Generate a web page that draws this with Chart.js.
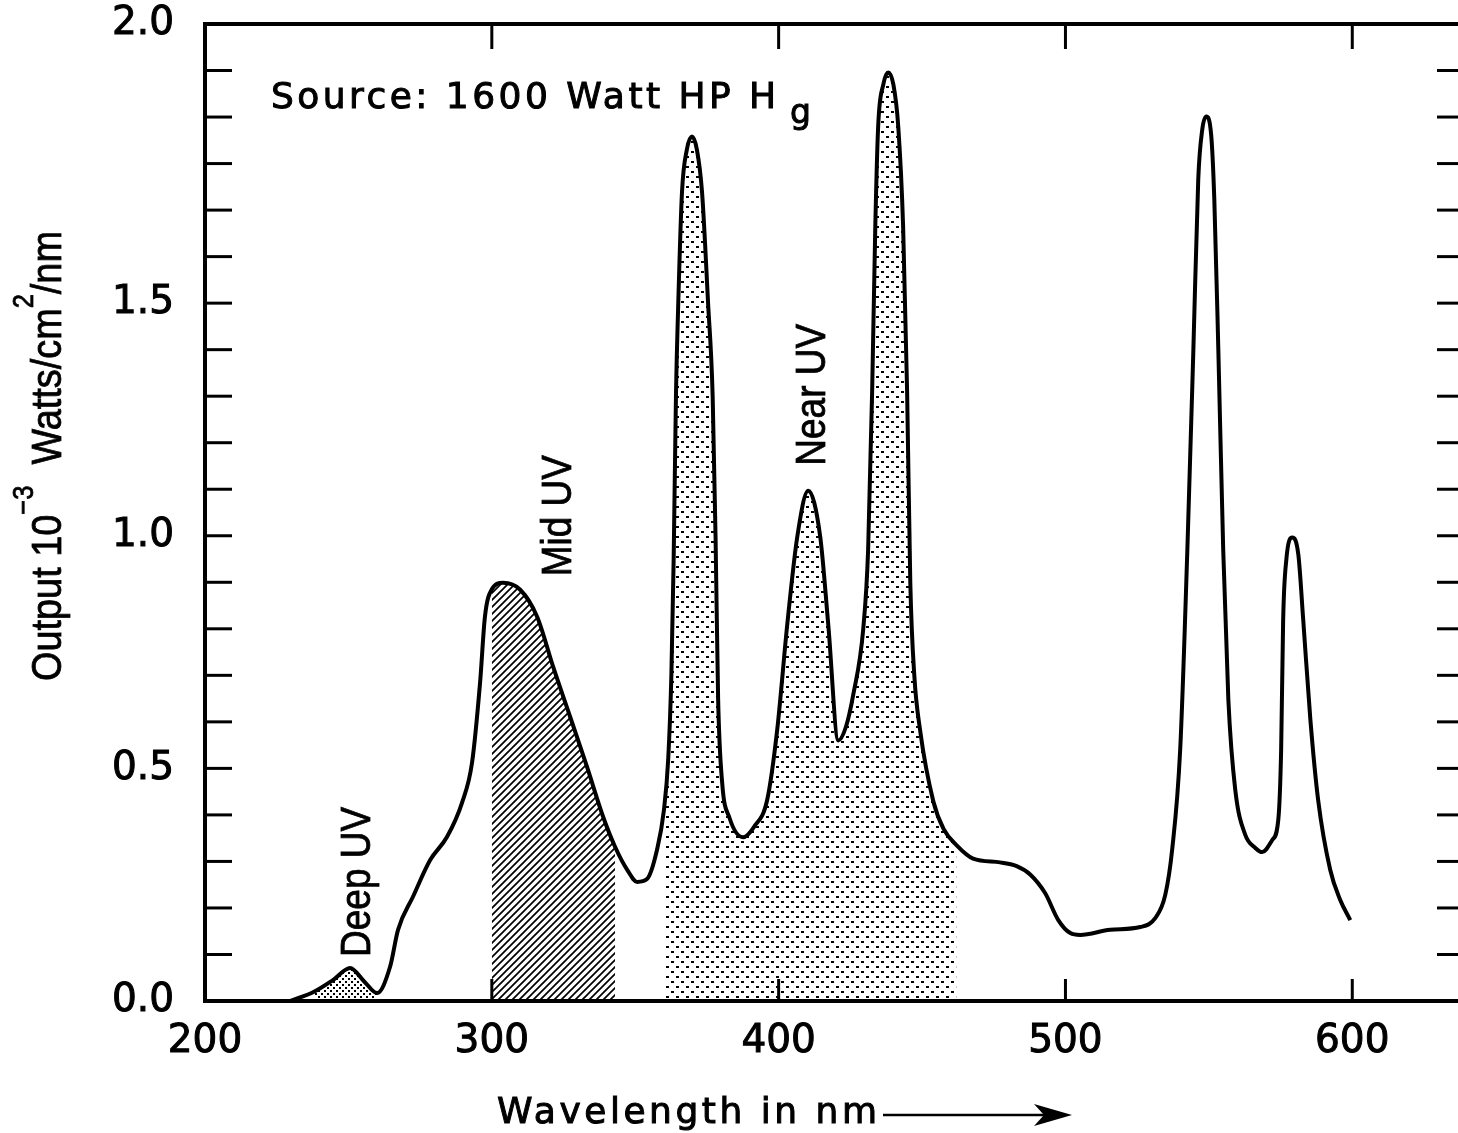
<!DOCTYPE html>
<html>
<head>
<meta charset="utf-8">
<title>HP Hg lamp output</title>
<script src="https://cdn.jsdelivr.net/npm/chart.js@4.4.0/dist/chart.umd.min.js"></script>
<style>
  html, body { margin: 0; padding: 0; background: #fff; overflow: hidden; }
</style>
</head>
<body>
<canvas id="myChart" width="1490" height="1133"></canvas>
<script>
// spectral output of a 1600 W high pressure mercury lamp
const wavelengthNm = [
  229.6, 238, 244.6, 250.6, 255.5, 260, 264.5, 267.3, 272.5, 278.5,
  284.4, 289.6, 293.1, 295.9, 297.6, 300, 303.9, 309.9, 315.8, 321.4,
  327.3, 333.2, 338.8, 343, 347.2, 350.7, 354.1, 357.6, 360, 361.5,
  362.6, 363.4, 364.2, 365.1, 366.3, 368, 369.8, 371.5, 373.3, 375.4,
  377.0, 378.0, 378.9, 380.3, 382.8, 387.6, 391.5, 396, 399.5, 403,
  406.5, 410.3, 414.5, 417.3, 420.8, 423.5, 426, 429.5, 431.2, 432.6,
  433.7, 434.7, 436.5, 438.2, 440, 441.7, 443.4, 444.8, 445.9, 447.3,
  449.3, 453.9, 457.5, 462, 467.8, 477.2, 483, 487.7, 492.9, 497.5,
  501.7, 505.1, 515.6, 526.1, 531.3, 534.8, 537.2, 540, 542.5, 544.6,
  546.3, 547.7, 549.1, 550.8, 551.9, 553.3, 555, 556.8, 559.2, 562.7,
  566.2, 568.6, 572.1, 574.2, 575.2, 575.9, 577, 579.1, 581.2, 582.9,
  585.4, 588.1, 592.3, 595.8, 599.3
];
const outputPerNm = [
  0.00, 0.02, 0.045, 0.071, 0.042, 0.017, 0.073, 0.153, 0.224, 0.303,
  0.353, 0.426, 0.512, 0.684, 0.826, 0.885, 0.899, 0.884, 0.826, 0.718,
  0.611, 0.503, 0.396, 0.331, 0.282, 0.256, 0.262, 0.325, 0.41, 0.52,
  0.70, 0.95, 1.30, 1.52, 1.738, 1.83, 1.858, 1.83, 1.738, 1.50,
  1.30, 1.00, 0.65, 0.47, 0.395, 0.352, 0.375, 0.432, 0.583, 0.809,
  0.998, 1.097, 0.998, 0.809, 0.56, 0.59, 0.658, 0.80, 0.97, 1.31,
  1.665, 1.88, 1.97, 1.996, 1.97, 1.88, 1.665, 1.308, 0.90, 0.70,
  0.583, 0.43, 0.37, 0.335, 0.306, 0.298, 0.29, 0.272, 0.232, 0.174,
  0.146, 0.142, 0.153, 0.159, 0.178, 0.228, 0.325, 0.54, 0.97, 1.40,
  1.766, 1.873, 1.901, 1.862, 1.723, 1.40, 0.97, 0.647, 0.454, 0.357,
  0.329, 0.32, 0.346, 0.389, 0.54, 0.819, 0.948, 0.996, 0.959, 0.819,
  0.604, 0.432, 0.282, 0.217, 0.174
];

const xTickValues = [200, 300, 400, 500, 600];
const yTickValues = [0, 0.5, 1.0, 1.5, 2.1];
const yTickLabels = ["0.0", "0.5", "1.0", "1.5", "2.0"];

const bandNames = ["Deep UV", "Mid UV", "Near UV"];
const bandFrom = [238, 300, 360];
const bandTo = [260, 343, 462];

const spectrum = wavelengthNm.map((nm, i) => ({ x: nm, y: outputPerNm[i] }));

function makePattern(size, paint) {
  const c = document.createElement("canvas");
  c.width = size;
  c.height = size;
  const g = c.getContext("2d");
  g.fillStyle = "#000";
  g.strokeStyle = "#000";
  paint(g, size);
  return g.createPattern(c, "repeat");
}

// fine stipple, diagonal hatch, open dot screen
const bandFills = [
  makePattern(6, (g) => {
    g.fillRect(0, 0, 2, 2);
    g.fillRect(3, 3, 2, 2);
  }),
  makePattern(7, (g, s) => {
    g.lineWidth = 1.7;
    g.beginPath();
    g.moveTo(-1, s + 1); g.lineTo(s + 1, -1);
    g.moveTo(-1, 1); g.lineTo(1, -1);
    g.moveTo(s - 1, s + 1); g.lineTo(s + 1, s - 1);
    g.stroke();
  }),
  makePattern(10, (g) => {
    g.fillRect(1, 1, 3, 2);
    g.fillRect(6, 6, 3, 2);
  })
];

const bandSets = bandNames.map((name, i) => ({
  label: name,
  data: spectrum.filter((p) => p.x >= bandFrom[i] && p.x <= bandTo[i]),
  fill: "origin",
  backgroundColor: bandFills[i],
  borderWidth: 0,
  borderColor: "rgba(0,0,0,0)",
  pointRadius: 0,
  cubicInterpolationMode: "monotone"
}));

function line(ctx, x1, y1, x2, y2) {
  ctx.beginPath();
  ctx.moveTo(x1, y1);
  ctx.lineTo(x2, y2);
  ctx.stroke();
}

// spread a string so it runs from x0 to x1
function spreadText(ctx, text, x0, x1, base) {
  ctx.letterSpacing = "0px";
  const w = ctx.measureText(text).width;
  const gap = (x1 - x0 - w) / Math.max(text.length - 1, 1);
  ctx.letterSpacing = gap.toFixed(2) + "px";
  ctx.strokeText(text, x0, base);
  ctx.fillText(text, x0, base);
  ctx.letterSpacing = "0px";
}

// text set upright along the axis, optionally with raised pieces
function vertText(ctx, bx, my, parts) {
  const squeeze = 0.88;
  let total = 0;
  for (const p of parts) {
    ctx.font = p.size + 'px "Liberation Sans", Arial, sans-serif';
    p.w = ctx.measureText(p.t).width * squeeze;
    total += p.w;
  }
  ctx.save();
  ctx.translate(bx, my);
  ctx.rotate(-Math.PI / 2);
  ctx.textBaseline = "alphabetic";
  let pos = -total / 2;
  for (const p of parts) {
    ctx.save();
    ctx.font = p.size + 'px "Liberation Sans", Arial, sans-serif';
    ctx.translate(pos, -(p.rise || 0));
    ctx.scale(squeeze, 1);
    ctx.strokeText(p.t, 0, 0);
    ctx.fillText(p.t, 0, 0);
    ctx.restore();
    pos += p.w;
  }
  ctx.restore();
}

const frame = {
  id: "frame",
  afterDraw(chart) {
    const { ctx, chartArea: a, scales: { x, y } } = chart;
    ctx.save();
    ctx.strokeStyle = "#000";
    ctx.fillStyle = "#000";
    ctx.lineWidth = 4;
    ctx.strokeRect(a.left, a.top, a.right - a.left, a.bottom - a.top);

    // ticks point inwards on all four sides
    ctx.lineWidth = 3;
    for (let k = 1; k <= 20; k++) {
      const py = y.getPixelForValue(k / 10);
      line(ctx, a.left, py, a.left + 27, py);
      line(ctx, a.right - 30, py, a.right, py);
    }
    for (const t of xTickValues.slice(1)) {
      const px = x.getPixelForValue(t);
      line(ctx, px, a.top, px, a.top + 25);
      line(ctx, px, a.bottom, px, a.bottom - 22);
    }

    ctx.textBaseline = "alphabetic";
    ctx.lineWidth = 1;

    // lamp note
    ctx.font = '36px "DejaVu Sans", sans-serif';
    spreadText(ctx, "Source: 1600 Watt HP H", 271, 776, 108);
    ctx.font = '33px "DejaVu Sans", sans-serif';
    ctx.strokeText("g", 790, 123);
    ctx.fillText("g", 790, 123);

    // x axis title with arrow
    ctx.font = '36px "DejaVu Sans", sans-serif';
    spreadText(ctx, "Wavelength in nm", 497, 877, 1123);
    ctx.lineWidth = 2.5;
    line(ctx, 883, 1115, 1050, 1115);
    ctx.beginPath();
    ctx.moveTo(1072, 1115);
    ctx.lineTo(1034, 1104);
    ctx.lineTo(1044, 1115);
    ctx.lineTo(1034, 1126);
    ctx.closePath();
    ctx.fill();

    // y axis title
    ctx.lineWidth = 0.8;
    vertText(ctx, 61, 456, [
      { t: "Output 10", size: 43 },
      { t: "\u22123", size: 29, rise: 28 },
      { t: "  Watts/cm", size: 43 },
      { t: "2", size: 29, rise: 28 },
      { t: "/nm", size: 43 }
    ]);

    // band names beside their shaded areas
    const bandLabelAt = [[257.5, 0.256], [327.6, 1.043], [416.2, 1.303]];
    bandNames.forEach((name, i) => {
      const [nm, v] = bandLabelAt[i];
      vertText(ctx, x.getPixelForValue(nm), y.getPixelForValue(v), [{ t: name, size: 42 }]);
    });
    ctx.restore();
  }
};

function noPad(s) {
  s.paddingTop = 0;
  s.paddingBottom = 0;
  s.paddingLeft = 0;
  s.paddingRight = 0;
}

const ctx = document.getElementById("myChart").getContext("2d");
const myChart = new Chart(ctx, {
  type: "line",
  data: {
    datasets: [
      {
        label: "Output",
        data: spectrum,
        borderColor: "#000",
        borderWidth: 4,
        pointRadius: 0,
        fill: false,
        cubicInterpolationMode: "monotone"
      },
      ...bandSets
    ]
  },
  options: {
    responsive: false,
    animation: false,
    layout: { padding: { top: 24, right: 23, left: 0, bottom: 0 } },
    plugins: {
      legend: { display: false },
      tooltip: { enabled: false }
    },
    scales: {
      x: {
        type: "linear",
        min: 200,
        max: 640,
        afterBuildTicks: (s) => { s.ticks = xTickValues.map((v) => ({ value: v })); },
        afterFit: (s) => { s.height = 132; noPad(s); },
        grid: { display: false, drawTicks: false },
        border: { display: false },
        ticks: {
          color: "#000",
          font: { family: "DejaVu Sans", size: 39 },
          textStrokeColor: "#000",
          textStrokeWidth: 1,
          padding: 17,
          maxRotation: 0,
          autoSkip: false
        }
      },
      y: {
        min: 0,
        max: 2.1,
        afterBuildTicks: (s) => { s.ticks = yTickValues.map((v) => ({ value: v })); },
        afterFit: (s) => { s.width = 205; noPad(s); },
        grid: { display: false, drawTicks: false },
        border: { display: false },
        ticks: {
          color: "#000",
          font: { family: "DejaVu Sans", size: 39 },
          textStrokeColor: "#000",
          textStrokeWidth: 1,
          padding: 31,
          autoSkip: false,
          callback: (v) => yTickLabels[yTickValues.indexOf(v)]
        }
      }
    }
  },
  plugins: [frame]
});
</script>
</body>
</html>
